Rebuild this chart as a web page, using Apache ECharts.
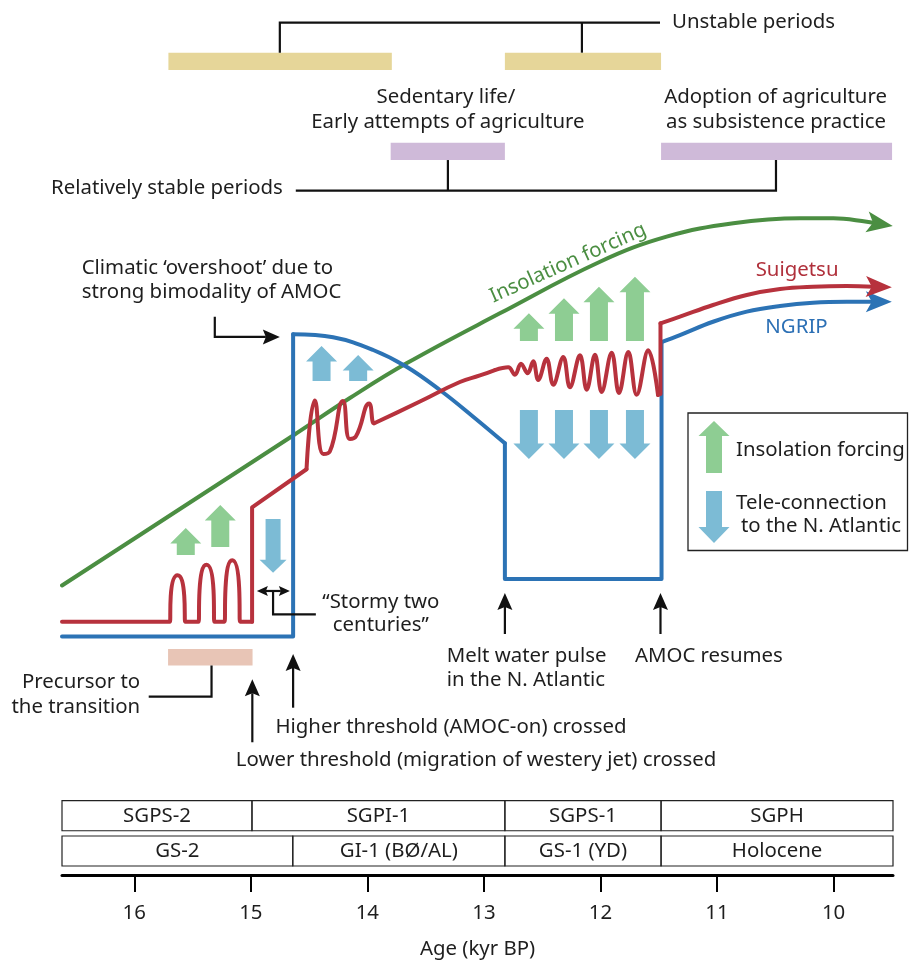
<!DOCTYPE html>
<html>
<head>
<meta charset="utf-8">
<script src="https://cdn.jsdelivr.net/npm/echarts@6/dist/echarts.min.js"></script>
<style>html,body{margin:0;padding:0;background:#fff}#chart{width:909px;height:967px}</style>
</head>
<body>
<div id="chart"></div>
<script>
// ---------------- DATA (age in kyr BP, schematic level 0-100) ----------------
const ageTicks = [16, 15, 14, 13, 12, 11, 10];

// Insolation forcing curve
const insolation = [[16.62,33.09],[15.635,41.6],[14.637,50.23],[14.15,54.51],[13.664,58.48],[12.863,64.19],[12.004,70.09],[11.432,72.95],[10.86,74.48],[10.288,75.05],[10.002,75.05],[9.715,74.66],[9.652,74.51]];

// Suigetsu curve, pieces
const suigetsuPrecursor = [[16.62,28.95],[15.712,28.95],[15.695,28.95],[15.687,31.86],[15.629,34.25],[15.571,31.86],[15.562,28.95],[15.545,28.95],[15.466,28.95],[15.449,28.95],[15.44,32.53],[15.38,35.46],[15.32,32.53],[15.312,28.95],[15.294,28.95],[15.243,28.95],[15.226,28.95],[15.217,32.81],[15.159,35.97],[15.1,32.81],[15.092,28.95],[15.075,28.95],[14.989,28.95]];
const suigetsuStep = [[14.989,28.95],[14.989,42.02],[14.522,46.37]];
const suigetsuInterstadial = [[14.522,46.37],[14.451,54.23],[14.378,48.11],[14.322,48.4],[14.21,54.17],[14.15,49.83],[14.099,50.11],[13.985,53.89],[13.944,51.6],[13.927,51.71],[13.549,54.11],[13.206,56.34],[13.034,57.09],[12.906,57.71]];
const suigetsuYD = [[12.906,57.71],[12.791,58.02],[12.734,57.18],[12.682,58.43],[12.625,57.34],[12.577,58.71],[12.534,56.57],[12.462,59.01],[12.405,56.03],[12.319,59.2],[12.262,55.74],[12.176,59.39],[12.118,55.46],[12.047,59.46],[11.99,55.2],[11.904,59.69],[11.841,55.09],[11.761,59.77],[11.689,54.89],[11.59,59.97],[11.506,54.86]];
const suigetsuRise = [[11.506,54.86],[11.485,54.97],[11.485,63.05]];
const suigetsuHolocene = [[11.485,63.05],[11.318,63.81],[11.034,65.14],[10.745,66.29],[10.459,66.97],[10.176,67.23],[9.887,67.31],[9.652,67.22]];

// NGRIP curve, pieces
const ngripStadial = [[16.62,27.26],[14.637,27.26],[14.637,61.79]];
const ngripOvershoot = [[14.637,61.79],[14.294,61.45],[13.95,60.0],[13.664,58.09],[13.378,55.43],[13.092,52.38],[12.82,49.34]];
const ngripYD = [[12.82,49.34],[12.82,33.83],[11.476,33.83],[11.476,60.91]];
const ngripHolocene = [[11.476,60.91],[11.318,61.71],[11.034,63.23],[10.745,64.38],[10.459,65.03],[10.176,65.41],[9.887,65.52],[9.652,65.52]];

// curve arrow heads: [tipAge, tipLevel, fromAge, fromLevel]
const curveTips = [[9.492,74.17,9.652,74.51],[9.5,65.52,9.652,65.52],[9.5,67.17,9.652,67.22]];

// block arrows: [age, baseLevel, tipLevel]
const insolationArrows = [[15.558,36.57,39.66],[15.262,37.49,42.29],[12.614,61.03,64.19],[12.313,61.03,65.91],[12.013,61.03,67.23],[11.704,61.03,68.38]];
const teleArrows = [[12.614,53.14,47.54],[12.313,53.14,47.54],[12.013,53.14,47.54],[11.704,53.14,47.54],[14.393,56.46,60.46],[14.079,56.46,59.43]];
const teleArrowSmall = [[14.809,40.69,34.55]];

// period bands: [startAge, endAge, topLevel, bottomLevel]
const unstableBands = [[15.707,13.79,93.98,92.0],[12.82,11.48,93.98,92.0]];
const stableBands = [[13.8,12.82,83.69,81.71],[11.48,9.498,83.69,81.71]];
const precursorBand = [[15.71,14.985,25.83,23.94]];

// stratigraphic boxes
const sgRowBounds = [16.62, 14.99, 12.82, 11.48, 9.49];
const sgRowLabels = ['SGPS-2', 'SGPI-1', 'SGPS-1', 'SGPH'];
const sgRowLevels = [8.49, 5.06];
const gsRowBounds = [16.62, 14.64, 12.82, 11.48, 9.49];
const gsRowLabels = ['GS-2', 'GI-1 (BØ/AL)', 'GS-1 (YD)', 'Holocene'];
const gsRowLevels = [4.46, 1.03];

// connectors / pointers (age, level)
const connectorPaths = [
  [[14.751,93.98],[14.751,97.41],[11.489,97.41]],
  [[12.159,97.41],[12.159,93.98]],
  [[14.614,78.21],[10.494,78.21],[10.494,81.71]],
  [[13.309,81.71],[13.309,78.21]],
  [[15.309,63.81],[15.309,61.49],[14.751,61.49]],
  [[14.948,32.46],[14.665,32.46]],
  [[14.809,32.46],[14.809,29.79],[14.442,29.79]],
  [[15.337,23.94],[15.337,20.38],[15.876,20.38]],
  [[14.987,15.17],[14.987,22.37]],
  [[14.637,19.12],[14.637,25.26]],
  [[12.82,27.54],[12.82,32.23]],
  [[11.485,27.54],[11.485,32.23]]
];
const connectorHeads = ['none','none','none','none','end','both','none','none','end','end','end','end'];

// annotations
const annotationTexts = [
  'Unstable periods', 'Sedentary life/', 'Early attempts of agriculture', 'Adoption of agriculture',
  'as subsistence practice', 'Relatively stable periods', 'Climatic \u2018overshoot\u2019 due to',
  'strong bimodality of AMOC', 'Insolation forcing', 'Suigetsu', 'NGRIP', '\u201cStormy two',
  'centuries\u201d', 'Precursor to', 'the transition', 'Melt water pulse', 'in the N. Atlantic',
  'AMOC resumes', 'Higher threshold (AMOC-on) crossed', 'Lower threshold (migration of westery jet) crossed'
];
const annotationAnchors = [
  [11.386,97.52],[13.326,88.95],[13.309,86.09],[10.498,88.95],[10.494,86.09],[14.725,78.48],
  [16.451,69.34],[16.451,66.66],[12.279,69.94],[10.313,69.14],[10.318,62.57],[13.884,31.23],
  [13.884,28.57],[15.949,22.09],[15.949,19.23],[13.318,25.03],[13.318,22.29],[11.704,25.03],
  [14.789,16.95],[15.129,13.14]
];

// ---------------- STYLE ----------------
const FONT = 'Noto Sans';
const FS = 20.4;
const TEXT = '#1e1e1e';
const GREEN = '#4b8e42', RED = '#b7323d', BLUE = '#2c73b5';
const GREEN_ARROW = '#8ecd93', BLUE_ARROW = '#7cbbd5';
const TAN = '#e6d699', PURPLE = '#cfbad9', PINK = '#e8c5b6';
const annotationAlign = ['left','center','center','center','center','right','left','left','center','center','center','center','center','right','right','left','left','left','left','left'];
const annotationColor = annotationTexts.map((t, i) => i === 8 ? GREEN : i === 9 ? '#b0303b' : i === 10 ? '#2c70b5' : TEXT);
const annotationRotation = annotationTexts.map((t, i) => i === 8 ? 24 * Math.PI / 180 : 0);

function curve(data, color, smooth, z) {
  return {type: 'line', data: data, symbol: 'none', showSymbol: false, smooth: smooth, z: z, silent: true,
    lineStyle: {color: color, width: 4, cap: 'round', join: 'round'}};
}

function headPoints(tip, from, len, halfW, notch) {
  const dx = tip[0] - from[0], dy = tip[1] - from[1];
  const d = Math.hypot(dx, dy) || 1;
  const ux = dx / d, uy = dy / d, px = -uy, py = ux;
  return [tip,
    [tip[0] - ux * len + px * halfW, tip[1] - uy * len + py * halfW],
    [tip[0] - ux * (len - notch), tip[1] - uy * (len - notch)],
    [tip[0] - ux * len - px * halfW, tip[1] - uy * len - py * halfW]];
}

function blockArrow(color, headW, stemW, headLen, z) {
  return function (data) {
    return {type: 'custom', data: data, z: z, silent: true, clip: false,
      renderItem: function (params, api) {
        const base = api.coord([api.value(0), api.value(1)]);
        const tip = api.coord([api.value(0), api.value(2)]);
        const x = tip[0];
        const dir = tip[1] < base[1] ? 1 : -1;
        const neck = tip[1] + dir * headLen;
        return {type: 'polygon', shape: {points: [[x, tip[1]], [x + headW / 2, neck], [x + stemW / 2, neck],
          [x + stemW / 2, base[1]], [x - stemW / 2, base[1]], [x - stemW / 2, neck], [x - headW / 2, neck]]},
          style: {fill: color}};
      }};
  };
}

function bandSeries(data, color) {
  return {type: 'custom', data: data, z: 1, silent: true, clip: false,
    renderItem: function (params, api) {
      const a = api.coord([api.value(0), api.value(2)]);
      const b = api.coord([api.value(1), api.value(3)]);
      return {type: 'rect', shape: {x: Math.min(a[0], b[0]), y: Math.min(a[1], b[1]),
        width: Math.abs(b[0] - a[0]), height: Math.abs(b[1] - a[1])}, style: {fill: color}};
    }};
}

function boxRow(bounds, labels, levels) {
  const data = labels.map((l, i) => [bounds[i], bounds[i + 1], levels[0], levels[1], i]);
  return {type: 'custom', data: data, z: 2, silent: true, clip: false,
    renderItem: function (params, api) {
      const a = api.coord([api.value(0), api.value(2)]);
      const b = api.coord([api.value(1), api.value(3)]);
      const x = Math.min(a[0], b[0]), y = Math.min(a[1], b[1]);
      const w = Math.abs(b[0] - a[0]), h = Math.abs(b[1] - a[1]);
      return {type: 'group', children: [
        {type: 'rect', shape: {x: x, y: y, width: w, height: h}, style: {fill: null, stroke: '#222', lineWidth: 1.2}},
        {type: 'text', x: x + w / 2, y: y + h / 2, style: {text: labels[api.value(4)], fontFamily: FONT, fontSize: FS,
          fill: TEXT, align: 'center', verticalAlign: 'middle'}}
      ]};
    }};
}

const option = {
  animation: false,
  backgroundColor: '#fff',
  grid: {left: 62, right: 16, top: 0, bottom: 92, containLabel: false, outerBoundsMode: 'none'},
  xAxis: {
    type: 'value', inverse: true, min: 9.49, max: 16.62,
    axisLine: {show: true, onZero: false, lineStyle: {color: '#000', width: 3}},
    axisTick: {show: true, customValues: ageTicks, length: 17, lineStyle: {color: '#000', width: 2}},
    axisLabel: {show: true, customValues: ageTicks, margin: 28, fontSize: FS, fontFamily: FONT, color: TEXT},
    splitLine: {show: false},
    name: 'Age (kyr BP)', nameLocation: 'middle', nameGap: 64,
    nameTextStyle: {fontSize: FS, fontFamily: FONT, color: TEXT}
  },
  yAxis: {type: 'value', min: 0, max: 100, show: false},
  graphic: [
    {type: 'rect', shape: {x: 688, y: 413, width: 219.5, height: 137.5}, style: {fill: null, stroke: '#222', lineWidth: 1.3}},
    {type: 'polygon', shape: {points: [[714, 421], [729.5, 436], [722, 436], [722, 473], [706, 473], [706, 436], [698.5, 436]]}, style: {fill: GREEN_ARROW}},
    {type: 'polygon', shape: {points: [[714, 543], [729.5, 527], [722, 527], [722, 491], [706, 491], [706, 527], [698.5, 527]]}, style: {fill: BLUE_ARROW}},
    {type: 'text', x: 736, y: 450, style: {text: 'Insolation forcing', fontFamily: FONT, fontSize: FS, fill: TEXT, verticalAlign: 'middle'}},
    {type: 'text', x: 736, y: 503, style: {text: 'Tele-connection', fontFamily: FONT, fontSize: FS, fill: TEXT, verticalAlign: 'middle'}},
    {type: 'text', x: 741, y: 526, style: {text: 'to the N. Atlantic', fontFamily: FONT, fontSize: FS, fill: TEXT, verticalAlign: 'middle'}}
  ],
  series: [
    bandSeries(unstableBands, TAN),
    bandSeries(stableBands, PURPLE),
    bandSeries(precursorBand, PINK),
    boxRow(sgRowBounds, sgRowLabels, sgRowLevels),
    boxRow(gsRowBounds, gsRowLabels, gsRowLevels),
    blockArrow(GREEN_ARROW, 31, 18, 15.5, 3)(insolationArrows),
    blockArrow(BLUE_ARROW, 31, 18, 15.5, 3)(teleArrows),
    blockArrow(BLUE_ARROW, 27, 15, 13, 3)(teleArrowSmall),
    curve(insolation, GREEN, 0.4, 4),
    curve(ngripStadial, BLUE, false, 5),
    curve(ngripOvershoot, BLUE, 0.4, 5),
    curve(ngripYD, BLUE, false, 5),
    curve(ngripHolocene, BLUE, 0.4, 5),
    curve(suigetsuPrecursor, RED, 0.6, 6),
    curve(suigetsuStep, RED, false, 6),
    curve(suigetsuInterstadial, RED, 0.5, 6),
    curve(suigetsuYD, RED, 0.4, 6),
    curve(suigetsuRise, RED, false, 6),
    curve(suigetsuHolocene, RED, 0.4, 6),
    {type: 'custom', data: curveTips, z: 7, silent: true, clip: false,
      renderItem: function (params, api) {
        const tip = api.coord([api.value(0), api.value(1)]);
        const from = api.coord([api.value(2), api.value(3)]);
        const color = [GREEN, BLUE, RED][params.dataIndex];
        return {type: 'polygon', shape: {points: headPoints(tip, from, 26, 10.5, 6)}, style: {fill: color}};
      }},
    {type: 'custom', data: connectorPaths.map((p, i) => [p[0][0], p[0][1], i]), z: 8, silent: true, clip: false,
      renderItem: function (params, api) {
        const idx = api.value(2);
        const pts = connectorPaths[idx].map(p => api.coord(p));
        const mode = connectorHeads[idx];
        const small = mode === 'both';
        const len = small ? 11 : 17, halfW = small ? 5 : 7.5, notch = small ? 2 : 3;
        const children = [];
        const line = pts.map(p => p.slice());
        function shorten(iEnd, iPrev) {
          const t = pts[iEnd], f = pts[iPrev];
          const d = Math.hypot(t[0] - f[0], t[1] - f[1]) || 1;
          line[iEnd] = [t[0] - (t[0] - f[0]) / d * (len - notch), t[1] - (t[1] - f[1]) / d * (len - notch)];
          children.push({type: 'polygon', shape: {points: headPoints(t, f, len, halfW, notch)}, style: {fill: '#111'}});
        }
        if (mode === 'end' || mode === 'both') shorten(pts.length - 1, pts.length - 2);
        if (mode === 'both') shorten(0, 1);
        children.unshift({type: 'polyline', shape: {points: line}, style: {fill: null, stroke: '#111', lineWidth: 2.2}});
        return {type: 'group', children: children};
      }},
    {type: 'custom', data: annotationAnchors.map((a, i) => [a[0], a[1], i]), z: 9, silent: true, clip: false,
      renderItem: function (params, api) {
        const i = api.value(2);
        const p = api.coord([api.value(0), api.value(1)]);
        return {type: 'text', x: p[0], y: p[1], rotation: annotationRotation[i],
          style: {text: annotationTexts[i], fontFamily: FONT, fontSize: FS, fill: annotationColor[i],
            align: annotationAlign[i], verticalAlign: 'middle'}};
      }}
  ]
};

const chart = echarts.init(document.getElementById('chart'), null, {renderer: 'canvas'});
chart.setOption(option);
</script>
</body>
</html>
